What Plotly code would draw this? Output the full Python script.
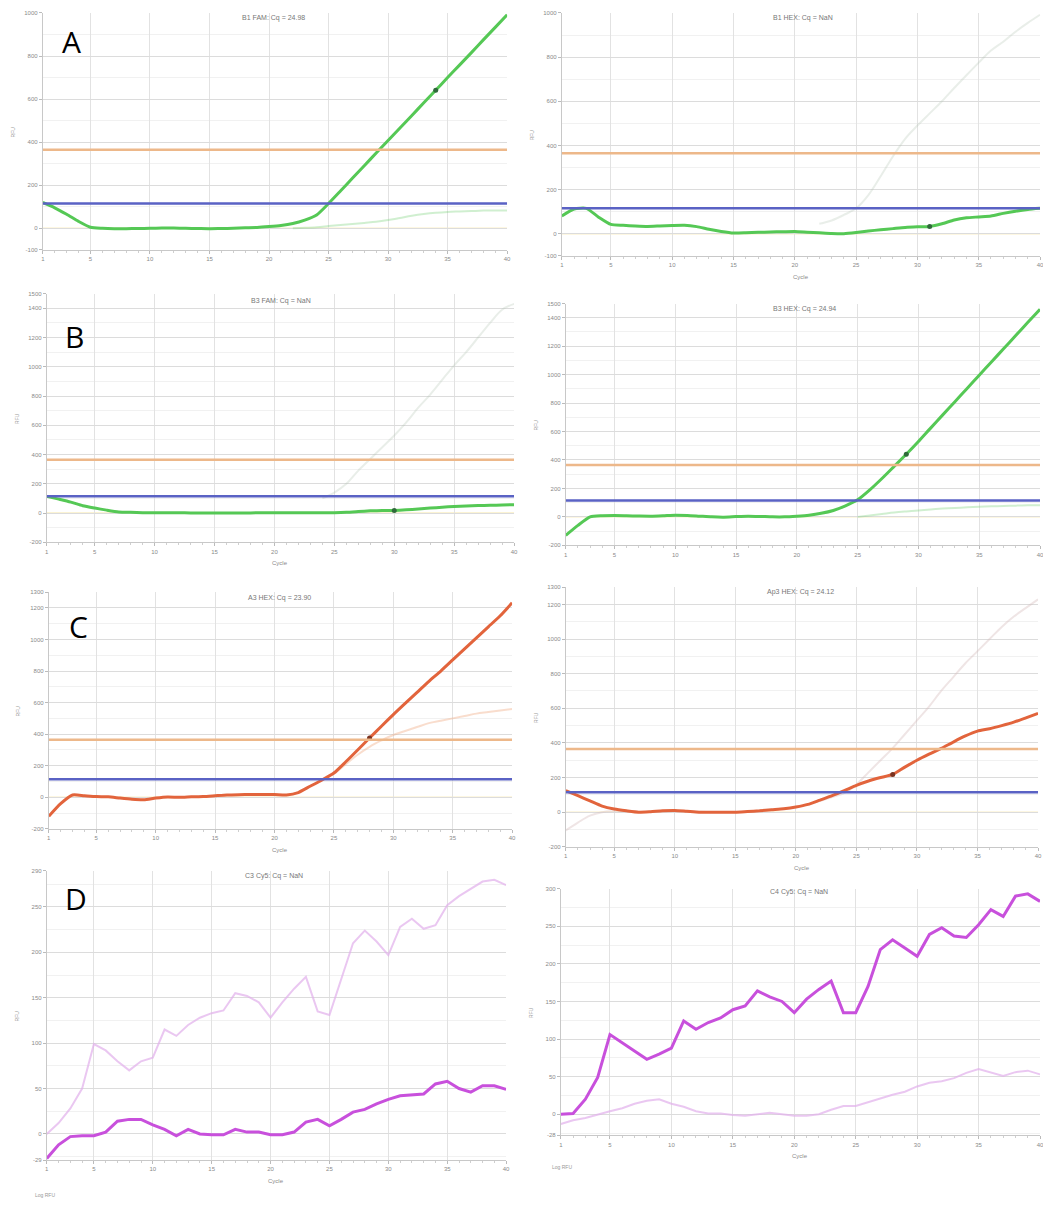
import plotly.graph_objects as go

# The page body adds an 8px margin, so the figure is drawn 8px smaller and coordinates are offset.
OFF = 8
W, H = 1051 - OFF, 1207 - OFF


def X(px):
    return (px - OFF) / W


def Y(py):
    return 1 - (py - OFF) / H


cycles = list(range(1, 41))
x_tick_vals = [1, 5, 10, 15, 20, 25, 30, 35, 40]

# ---------------- Panel A ----------------
a_left_title = "B1 FAM: Cq = 24.98"
a_left_main = [120, 95, 65, 32, 5, 0, -2, -2, -1, 0, 1, 1, 0, -1, -2, -1, 0, 2, 4, 8,
               13, 22, 38, 62, 115, 173, 232, 290, 350, 408, 466, 524, 583, 641, 700, 758, 816, 875, 933, 992]
a_left_faint = [None] * 21 + [0, 2, 5, 10, 15, 20, 25, 30, 38, 48, 58, 66, 72, 76, 78, 80, 82, 82, 82]
a_left_cq = 34

a_right_title = "B1 HEX: Cq = NaN"
a_right_main = [80, 112, 115, 75, 42, 38, 35, 33, 35, 37, 38, 32, 20, 10, 3, 4, 6, 8, 9, 10,
                7, 4, 1, 0, 5, 12, 18, 23, 28, 31, 33, 45, 62, 72, 76, 80, 92, 102, 110, 115]
a_right_faint = [None] * 21 + [45, 60, 85, 115, 175, 260, 350, 430, 490, 545, 600, 660, 718, 775, 830, 870, 915, 955, 992]
a_right_cq = 31

a_y_range = [-100, 1000]
a_y_ticks = [-100, 0, 200, 400, 600, 800, 1000]

# ---------------- Panel B ----------------
b_left_title = "B3 FAM: Cq = NaN"
b_left_main = [114, 95, 75, 50, 34, 20, 8, 5, 3, 2, 2, 2, 1, 1, 1, 1, 1, 1, 2, 2,
               2, 2, 2, 3, 3, 5, 10, 15, 18, 18, 22, 28, 34, 40, 45, 48, 51, 53, 55, 57]
b_left_faint = [None] * 23 + [100, 140, 200, 290, 370, 450, 530, 620, 720, 810, 910, 1010, 1100, 1200, 1300, 1390, 1430]
b_left_cq = 30

b_right_title = "B3 HEX: Cq = 24.94"
b_right_main = [-130, -60, 0, 8, 10, 8, 6, 5, 8, 12, 10, 5, 0, -2, 2, 5, 3, 0, 0, 5,
                12, 25, 45, 78, 120, 190, 270, 355, 440, 530, 624, 717, 810, 903, 996, 1089, 1182, 1275, 1368, 1459]
b_right_faint = [None] * 24 + [0, 10, 20, 30, 38, 45, 52, 58, 63, 67, 71, 74, 77, 79, 81, 82]
b_right_cq = 29

b_y_range = [-200, 1500]
b_y_ticks = [-200, 0, 200, 400, 600, 800, 1000, 1200, 1400, 1500]

# ---------------- Panel C ----------------
c_left_title = "A3 HEX: Cq = 23.90"
c_left_main = [-120, -40, 15, 10, 5, 3, -5, -12, -15, -5, 2, 0, 3, 5, 10, 15, 17, 18, 18, 18,
               15, 30, 70, 110, 154, 225, 300, 376, 450, 524, 595, 665, 735, 800, 870, 940, 1010, 1080, 1150, 1232]
c_left_faint = [None] * 23 + [110, 150, 210, 270, 320, 360, 395, 420, 445, 470, 485, 500, 515, 530, 540, 550, 560]
c_left_cq = 28

c_right_title = "Ap3 HEX: Cq = 24.12"
c_right_main = [124, 95, 65, 35, 18, 8, 0, 3, 8, 10, 5, 0, 0, 0, 0, 4, 8, 14, 20, 30,
                45, 70, 95, 124, 155, 180, 200, 218, 260, 300, 335, 368, 405, 440, 468, 482, 500, 520, 545, 571]
c_right_faint = [-105, -60, -20, 0, 5, 5, 3, 3, 5, 8, 5, 2, 0, 0, 0, 4, 8, 14, 20, 30,
                 45, 65, 88, 110, 160, 230, 300, 370, 450, 530, 610, 700, 780, 860, 930, 1000, 1070, 1130, 1180, 1229]
c_right_cq = 28

c_y_range = [-200, 1300]
c_y_ticks = [-200, 0, 200, 400, 600, 800, 1000, 1200, 1300]

# ---------------- Panel D ----------------
d_left_title = "C3 Cy5: Cq = NaN"
d_left_main = [-27, -12, -3, -2, -2, 2, 14, 16, 16, 10, 5, -2, 5, 0, -1, -1, 5, 2, 2, -1,
               -1, 2, 13, 16, 9, 16, 24, 27, 33, 38, 42, 43, 44, 55, 58, 50, 46, 53, 53, 49]
d_left_faint = [0, 12, 28, 50, 99, 92, 80, 70, 80, 84, 115, 108, 120, 128, 133, 136, 155, 152, 145, 128,
                145, 160, 173, 135, 131, 170, 210, 224, 212, 197, 228, 237, 226, 230, 252, 262, 270, 278, 280, 274]
d_left_range = [-29, 290]
d_left_ticks = [-29, 0, 50, 100, 150, 200, 250, 290]

d_right_title = "C4 Cy5: Cq = NaN"
d_right_main = [0, 1, 20, 49, 106, 95, 84, 73, 80, 88, 124, 113, 122, 128, 139, 144, 164, 156, 150, 135,
                153, 166, 177, 135, 135, 170, 219, 232, 221, 210, 239, 248, 237, 235, 252, 272, 263, 290, 293, 283]
d_right_faint = [-13, -8, -5, 0, 4, 8, 14, 18, 20, 14, 10, 4, 1, 1, -1, -2, 0, 2, 0, -2,
                 -2, 0, 6, 11, 11, 16, 22, 26, 30, 37, 42, 44, 48, 55, 60, 55, 51, 56, 58, 53]
d_right_range = [-28, 300]
d_right_ticks = [-28, 0, 50, 100, 150, 200, 250, 300]

threshold_high = 365
threshold_low = 115

panel_letters = ["A", "B", "C", "D"]

# ---------------- styling ----------------
GREEN = "#55C855"
GREEN_FAINT = "rgba(120,210,120,0.35)"
GHOST = "rgba(175,195,175,0.28)"
RED = "#E2643C"
RED_FAINT = "rgba(240,170,130,0.40)"
MAGENTA = "#C850DC"
MAGENTA_FAINT = "rgba(225,175,235,0.70)"
ORANGE_T = "#EDB88A"
BLUE_T = "#5A62C4"

# pixel boxes in the page: (left, right, top, bottom)
panels = [
    dict(box=(41, 508, 10, 248), yr=a_y_range, yt=a_y_ticks, main=a_left_main, faint=a_left_faint,
         mc=GREEN, fc=GREEN_FAINT, cq=a_left_cq, title=a_left_title, tpos=(273, 15), thr=True, minor=100,
         xt="", shape="spline"),
    dict(box=(563, 1044, 10, 254), yr=a_y_range, yt=a_y_ticks, main=a_right_main, faint=a_right_faint,
         mc=GREEN, fc=GHOST, cq=a_right_cq, title=a_right_title, tpos=(806, 15), thr=True, minor=100,
         xt="Cycle", shape="spline"),
    dict(box=(45, 515, 292, 542), yr=b_y_range, yt=b_y_ticks, main=b_left_main, faint=b_left_faint,
         mc=GREEN, fc=GHOST, cq=b_left_cq, title=b_left_title, tpos=(281, 299), thr=True, minor=100,
         xt="Cycle", shape="spline"),
    dict(box=(567, 1044, 302, 545), yr=b_y_range, yt=b_y_ticks, main=b_right_main, faint=b_right_faint,
         mc=GREEN, fc=GREEN_FAINT, cq=b_right_cq, title=b_right_title, tpos=(807, 308), thr=True, minor=100,
         xt="", shape="spline"),
    dict(box=(47, 513, 592, 830), yr=c_y_range, yt=c_y_ticks, main=c_left_main, faint=c_left_faint,
         mc=RED, fc=RED_FAINT, cq=c_left_cq, title=c_left_title, tpos=(279, 598), thr=True, minor=100,
         xt="Cycle", shape="spline"),
    dict(box=(567, 1042, 587, 848), yr=c_y_range, yt=c_y_ticks, main=c_right_main, faint=c_right_faint,
         mc=RED, fc="rgba(215,190,190,0.40)", cq=c_right_cq, title=c_right_title, tpos=(803, 592), thr=True,
         minor=100, xt="Cycle", shape="spline"),
    dict(box=(45, 507, 872, 1163), yr=d_left_range, yt=d_left_ticks, main=d_left_main, faint=d_left_faint,
         mc=MAGENTA, fc=MAGENTA_FAINT, cq=None, title=d_left_title, tpos=(274, 877), thr=False, minor=25,
         xt="Cycle", shape="linear"),
    dict(box=(562, 1044, 890, 1138), yr=d_right_range, yt=d_right_ticks, main=d_right_main, faint=d_right_faint,
         mc=MAGENTA, fc=MAGENTA_FAINT, cq=None, title=d_right_title, tpos=(802, 893), thr=False, minor=25,
         xt="Cycle", shape="linear"),
]

letter_pos = [(70, 39), (73, 335), (77, 627), (74, 900)]

fig = go.Figure()
layout = dict(
    width=W, height=H, margin=dict(l=0, r=0, t=0, b=0),
    paper_bgcolor="white", plot_bgcolor="white", showlegend=False,
    font=dict(family="Liberation Sans, Arial, sans-serif"),
)
shapes = []
annotations = []

for i, p in enumerate(panels):
    n = i + 1
    xa = "x" if n == 1 else f"x{n}"
    ya = "y" if n == 1 else f"y{n}"
    xkey = "xaxis" if n == 1 else f"xaxis{n}"
    ykey = "yaxis" if n == 1 else f"yaxis{n}"
    l, r, t, b = p["box"]
    layout[xkey] = dict(
        domain=[X(l), X(r)], anchor=ya, range=[1, 40],
        tickmode="array", tickvals=x_tick_vals, ticktext=[str(v) for v in x_tick_vals],
        showgrid=True, gridcolor="#E2E2E2", gridwidth=1, zeroline=False,
        showline=True, linecolor="#C8C8C8", ticks="outside", ticklen=3, tickcolor="#BBBBBB",
        tickfont=dict(size=6, color="#8A8A8A"),
        minor=dict(tickmode="linear", tick0=0, dtick=1, ticks="outside", ticklen=2,
                   tickcolor="#CFCFCF", showgrid=False),
    )
    layout[ykey] = dict(
        domain=[Y(b), Y(t)], anchor=xa, range=p["yr"],
        tickmode="array", tickvals=p["yt"], ticktext=[str(v) for v in p["yt"]],
        showgrid=True, gridcolor="#DCDCDC", gridwidth=1, zeroline=False,
        showline=True, linecolor="#C8C8C8", ticks="outside", ticklen=3, tickcolor="#BBBBBB",
        tickfont=dict(size=6, color="#8A8A8A"),
        minor=dict(tickmode="linear", tick0=0, dtick=p["minor"], showgrid=True,
                   gridcolor="#F1F1F1", ticks=""),
    )

    if p["thr"]:
        shapes.append(dict(type="line", xref=xa, yref=ya, x0=1, x1=40, y0=0, y1=0,
                           line=dict(color="rgba(245,225,150,0.55)", width=1.5), layer="below"))
        shapes.append(dict(type="line", xref=xa, yref=ya, x0=1, x1=40, y0=threshold_high, y1=threshold_high,
                           line=dict(color=ORANGE_T, width=2.5)))
        shapes.append(dict(type="line", xref=xa, yref=ya, x0=1, x1=40, y0=threshold_low, y1=threshold_low,
                           line=dict(color=BLUE_T, width=2.5)))

    fig.add_trace(go.Scatter(x=cycles, y=p["faint"], mode="lines", xaxis=xa, yaxis=ya,
                             line=dict(color=p["fc"], width=2, shape=p["shape"]),
                             connectgaps=False, hoverinfo="skip"))
    fig.add_trace(go.Scatter(x=cycles, y=p["main"], mode="lines", xaxis=xa, yaxis=ya,
                             line=dict(color=p["mc"], width=3, shape=p["shape"], smoothing=0.6
                                       if p["shape"] == "spline" else None)))
    if p["cq"] is not None:
        fig.add_trace(go.Scatter(x=[p["cq"]], y=[p["main"][p["cq"] - 1]], mode="markers",
                                 xaxis=xa, yaxis=ya,
                                 marker=dict(color="#2F6A3A" if p["mc"] == GREEN else "#7A3320", size=5)))

    tx, ty = p["tpos"]
    annotations.append(dict(text=p["title"], x=X(tx), y=Y(ty), xref="paper", yref="paper",
                            showarrow=False, font=dict(size=7, color="#777777"),
                            xanchor="center", yanchor="middle"))
    annotations.append(dict(text="RFU", x=X(l - 30), y=Y((t + b) / 2), xref="paper", yref="paper",
                            showarrow=False, textangle=-90, font=dict(size=5, color="#999999"),
                            xanchor="center", yanchor="middle"))
    if p["xt"]:
        annotations.append(dict(text=p["xt"], x=X((l + r) / 2), y=Y(b + 21), xref="paper",
                                yref="paper", showarrow=False, font=dict(size=6, color="#8A8A8A"),
                                xanchor="center", yanchor="middle"))

for letter, (lx, ly) in zip(panel_letters, letter_pos):
    annotations.append(dict(text=letter, x=X(lx), y=Y(ly), xref="paper", yref="paper",
                            showarrow=False, font=dict(size=30, color="black", family="Open Sans, sans-serif"),
                            xanchor="center", yanchor="middle"))

for (lx, ly) in [(43, 1198), (563, 1170)]:
    annotations.append(dict(text="Log RFU", x=X(lx), y=Y(ly), xref="paper", yref="paper",
                            showarrow=False, font=dict(size=5, color="#999999"),
                            xanchor="center", yanchor="middle"))

layout["shapes"] = shapes
layout["annotations"] = annotations
fig.update_layout(**layout)
fig.write_html("out.html")
